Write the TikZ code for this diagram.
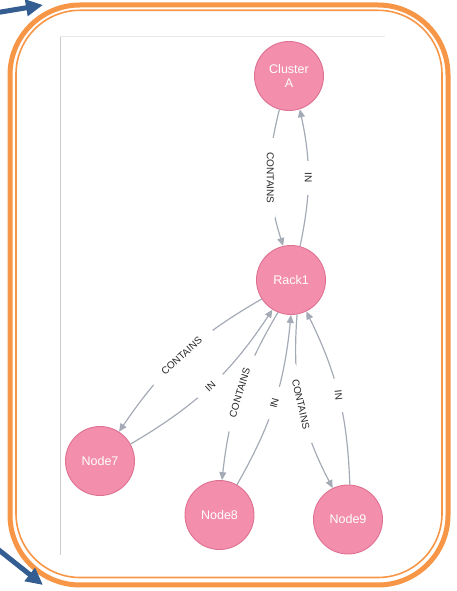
\documentclass[tikz,border=0pt]{standalone}
\usepackage{fontspec}
\setmainfont{Liberation Sans}
\usetikzlibrary{arrows.meta}

\definecolor{nodepink}{RGB}{243,142,173}
\definecolor{nodeedge}{RGB}{222,112,146}
\definecolor{relgray}{RGB}{165,171,182}
\definecolor{lbltext}{RGB}{40,40,40}
\definecolor{frameorange}{RGB}{247,150,70}
\definecolor{pointerblue}{RGB}{52,93,145}
\definecolor{panelgray}{RGB}{205,205,205}
\definecolor{panelfaint}{RGB}{232,232,232}

\tikzset{
  graphnode/.style={circle, fill=nodepink, draw=nodeedge, line width=0.9pt,
    minimum size=69pt, inner sep=0pt, text=white, align=center,
    font=\fontsize{12.5}{14}\selectfont},
  rel/.style={draw=relgray, line width=1.2pt,
    -{Triangle[length=8pt,width=7pt]}},
  % white break in a relationship line, behind its caption
  gapbox/.style={fill=white, inner sep=0pt, minimum height=9pt, midway},
  longgap/.style={gapbox, minimum width=80pt},
  shortgap/.style={gapbox, minimum width=34pt},
  lbl/.style={text=lbltext, inner sep=0.5pt, midway,
    font=\fontsize{10}{12}\selectfont},
  outerframe/.style={draw=frameorange, line width=5pt, rounded corners=70pt},
  innerframe/.style={draw=frameorange, line width=1.6pt, rounded corners=64pt},
  pointer/.style={draw=pointerblue, line width=5pt,
    -{Triangle[length=17pt,width=16pt]}},
}

\begin{document}
\begin{tikzpicture}[x=1pt,y=1pt]
\useasboundingbox (0,0) rectangle (456,591);
\clip (0,0) rectangle (456,591);

% canvas edges of the graph view
\draw[panelgray, line width=0.8pt] (60,555) -- (60,36);
\draw[panelfaint, line width=0.8pt] (60,555) -- (385,555);

% double orange frame
\draw[outerframe] (10,6) rectangle (448,586);
\draw[innerframe] (16,13.5) rectangle (442,580.7);

% pointer arrows at the left
\coordinate (ptrAfrom) at (-8,577.5);
\coordinate (ptrAto) at (43,586);
\coordinate (ptrBfrom) at (-10,48);
\coordinate (ptrBto) at (43,6);
\draw[pointer] (ptrAfrom) -- (ptrAto);
\draw[pointer] (ptrBfrom) -- (ptrBto);

% graph nodes
\node[graphnode] (clusterA) at (289,515) {Cluster\\A};
\node[graphnode] (rack1) at (291,311) {Rack1};
\node[graphnode] (node7) at (100,130) {Node7};
\node[graphnode] (node8) at (219.5,76) {Node8};
\node[graphnode] (node9) at (348,71.5) {Node9};

% relationships
\draw[rel] (clusterA.-106) to[bend right=16]
  node[longgap, rotate=-90] {} node[lbl, rotate=-90] {CONTAINS} (rack1.103);
\draw[rel] (rack1.75) to[bend right=12]
  node[shortgap, rotate=-90] {} node[lbl, rotate=-90] {IN} (clusterA.-72);
\draw[rel] (rack1.-147) to[bend right=13]
  node[longgap, rotate=42] {} node[lbl, rotate=42] {CONTAINS} (node7.57);
\draw[rel] (node7.29) to[bend right=13]
  node[shortgap, rotate=43] {} node[lbl, rotate=43] {IN} (rack1.-122);
\draw[rel] (rack1.-112) to[bend right=12]
  node[longgap, rotate=73] {} node[lbl, rotate=73] {CONTAINS} (node8.86);
\draw[rel] (node8.60) to[bend right=12]
  node[shortgap, rotate=75] {} node[lbl, rotate=75] {IN} (rack1.-90);
\draw[rel] (rack1.-80) to[bend right=16]
  node[longgap, rotate=-77] {} node[lbl, rotate=-77] {CONTAINS} (node9.116);
\draw[rel] (node9.87) to[bend right=12]
  node[shortgap, rotate=-84] {} node[lbl, rotate=-84] {IN} (rack1.-64);
\end{tikzpicture}
\end{document}
